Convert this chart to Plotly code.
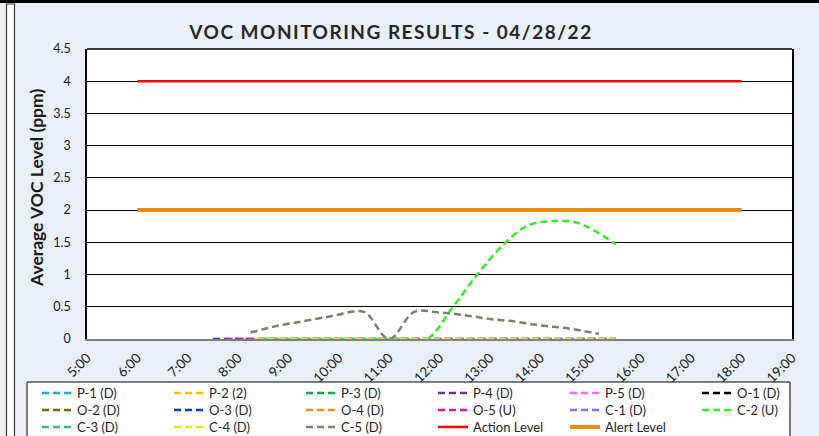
import plotly.graph_objects as go

DAY = "2022-04-28 "

# ---- data ----
SERIES_NAMES = ["P-1 (D)", "P-2 (2)", "P-3 (D)", "P-4 (D)", "P-5 (D)", "O-1 (D)",
                "O-2 (D)", "O-3 (D)", "O-4 (D)", "O-5 (U)", "C-1 (D)", "C-2 (U)",
                "C-3 (D)", "C-4 (D)", "C-5 (D)"]
SERIES_COLORS = ["#00B0F0", "#FFC000", "#00B050", "#7030A0", "#FF66FF", "#000000",
                 "#7F6000", "#0A3DC8", "#F08C1E", "#E6169C", "#9966FF", "#33EE22",
                 "#3CB878", "#DDEE11", "#807F70"]

O3_TIMES = ["07:30", "08:00", "08:30", "09:00", "09:30", "10:00", "10:30", "11:00", "11:30",
            "12:00", "12:30", "13:00", "13:30", "14:00", "14:30", "15:00", "15:30"]
O3_VALUES = [0, 0, 0, 0, 0, 0, 0, 0, 0, 0, 0, 0, 0, 0, 0, 0, 0]

O5_TIMES = ["07:45", "08:15", "08:45", "09:15", "09:45", "10:15", "10:45", "11:15", "11:45",
            "12:15", "12:45", "13:15", "13:45", "14:15", "14:45", "15:15", "15:30"]
O5_VALUES = [0, 0, 0, 0, 0, 0, 0, 0, 0, 0, 0, 0, 0, 0, 0, 0, 0]

C1_TIMES = ["08:25", "09:00", "09:30", "10:00", "10:30", "11:00", "11:30", "12:00",
            "12:30", "13:00", "13:30", "14:00", "14:30", "15:00", "15:30"]
C1_VALUES = [0, 0, 0, 0, 0, 0, 0, 0, 0, 0, 0, 0, 0, 0, 0]

C2_TIMES = ["08:30", "09:00", "09:30", "10:00", "10:30", "11:00", "11:15", "11:45",
            "12:15", "12:45", "13:15", "13:45", "14:15", "14:45", "15:30"]
C2_VALUES = [0, 0, 0, 0, 0, 0, 0, 0, 0.48, 1.0, 1.45, 1.76, 1.83, 1.8, 1.47]

C4_TIMES = ["08:22", "09:00", "09:30", "10:00", "10:30", "11:00", "11:30", "12:00",
            "12:30", "13:00", "13:30", "14:00", "14:30", "15:00", "15:30"]
C4_VALUES = [0, 0, 0, 0, 0, 0, 0, 0, 0, 0, 0, 0, 0, 0, 0]

C5_TIMES = ["08:15", "08:45", "09:15", "09:45", "10:00", "10:30", "11:00", "11:30",
            "12:00", "12:30", "13:00", "13:30", "14:00", "14:30", "15:10"]
C5_VALUES = [0.10, 0.20, 0.27, 0.34, 0.38, 0.42, 0.0, 0.42, 0.41, 0.37, 0.31, 0.27,
             0.21, 0.17, 0.08]

LIMIT_TIMES = ["06:00", "18:00"]
ACTION_LEVEL = [4, 4]
ALERT_LEVEL = [2, 2]

Y_TICKS = [0, 0.5, 1, 1.5, 2, 2.5, 3, 3.5, 4, 4.5]
Y_TICK_LABELS = ["0", "0.5", "1", "1.5", "2", "2.5", "3", "3.5", "4", "4.5"]

SERIES_DATA = {
    "O-3 (D)": (O3_TIMES, O3_VALUES),
    "O-5 (U)": (O5_TIMES, O5_VALUES),
    "C-1 (D)": (C1_TIMES, C1_VALUES),
    "C-2 (U)": (C2_TIMES, C2_VALUES),
    "C-4 (D)": (C4_TIMES, C4_VALUES),
    "C-5 (D)": (C5_TIMES, C5_VALUES),
}

FONT = "Lato"
LEGEND_ROWS = ["legend", "legend2", "legend3"]

fig = go.Figure()
for i, (name, color) in enumerate(zip(SERIES_NAMES, SERIES_COLORS)):
    if name in SERIES_DATA:
        times, vals = SERIES_DATA[name]
        xs = [DAY + t for t in times]
    else:
        xs, vals = [None], [None]  # series without readings: legend entry only
    fig.add_trace(go.Scatter(
        x=xs, y=vals, name=name, mode="lines", legend=LEGEND_ROWS[i // 6],
        line=dict(color=color, width=2.5, dash="7px,4px", shape="spline", smoothing=1),
        showlegend=True))

fig.add_trace(go.Scatter(x=[DAY + t for t in LIMIT_TIMES], y=ACTION_LEVEL, name="Action Level",
                         mode="lines", legend="legend3", line=dict(color="#FF0000", width=2.5)))
fig.add_trace(go.Scatter(x=[DAY + t for t in LIMIT_TIMES], y=ALERT_LEVEL, name="Alert Level",
                         mode="lines", legend="legend3", line=dict(color="#ED8C12", width=4)))

L, R, T, B = 87, 27, 49, 97
W, H = 819, 436
PW, PH = W - L - R, H - T - B


def px(x):
    return (x - L) / PW


def py(y):
    return (H - B - y) / PH


shapes = [
    dict(type="line", xref="paper", yref="paper", x0=0, x1=1, y0=1, y1=1,
         line=dict(color="#000000", width=1.5), layer="above"),
    dict(type="line", xref="paper", yref="paper", x0=px(0), x1=px(W), y0=py(1.5), y1=py(1.5),
         line=dict(color="#000000", width=3)),
    dict(type="rect", xref="paper", yref="paper", x0=px(6.5), x1=px(14.5), y0=py(H + 2), y1=py(4),
         fillcolor="#FFFFFF", line=dict(color="#3A3A3A", width=1.2)),
    # legend frame
    dict(type="rect", xref="paper", yref="paper", x0=px(27), x1=px(790), y0=py(H + 3), y1=py(382),
         fillcolor="#FFFFFF", line=dict(color="#000000", width=1)),
]
for xd in [112, 285, 480, 650]:
    shapes.append(dict(type="line", xref="paper", yref="paper", x0=px(xd), x1=px(xd),
                       y0=py(0), y1=py(3), line=dict(color="#000000", width=1)))

legend_common = dict(orientation="h", xanchor="left", yanchor="middle",
                     bgcolor="rgba(0,0,0,0)", borderwidth=0,
                     font=dict(family=FONT, size=13, color="#262626"),
                     entrywidth=87, traceorder="normal", tracegroupgap=0)

fig.update_layout(
    width=W, height=H,
    margin=dict(l=L, r=R, t=T, b=B, pad=0, autoexpand=False),
    paper_bgcolor="#E9EFF7",
    plot_bgcolor="#FFFFFF",
    font=dict(family=FONT, color="#1a1a1a"),
    title=dict(text="<b>VOC MONITORING RESULTS - 04/28/22</b>", x=391 / W, xanchor="center",
               y=1 - 32 / H, yanchor="middle", xref="container", yref="container",
               font=dict(family=FONT, size=19, color="#262626")),
    showlegend=True,
    legend=dict(x=px(37), y=py(393), **legend_common),
    legend2=dict(x=px(37), y=py(410), **legend_common),
    legend3=dict(x=px(37), y=py(427), **legend_common),
    shapes=shapes,
    annotations=[dict(text="<b>Average VOC Level (ppm)</b>", textangle=-90, xref="paper",
                      yref="paper", x=px(36), y=py(188), xanchor="center", yanchor="middle",
                      showarrow=False, font=dict(family=FONT, size=17.5, color="#1a1a1a"))],
)

fig.update_xaxes(
    type="date", range=[DAY + "05:00", DAY + "19:00"], dtick=3600000,
    tick0=DAY + "05:00", tickformat="%-H:%M", tickangle=-45,
    showgrid=False, showline=True, linecolor="#808080", linewidth=1.5,
    ticks="", tickfont=dict(family=FONT, size=13.5, color="#1a1a1a"),
    ticklabelstandoff=4, zeroline=False,
)
fig.update_yaxes(
    range=[0, 4.5], tickvals=Y_TICKS, ticktext=Y_TICK_LABELS,
    showgrid=True, gridcolor="#000000", gridwidth=1.3,
    showline=True, linecolor="#000000", linewidth=1.5, mirror=True,
    ticks="", ticklabelstandoff=12, tickfont=dict(family=FONT, size=12.5, color="#1a1a1a"),
    zeroline=False,
)

POST = ("document.body.style.margin='0';"
        "var t=document.querySelector('.gtitle');"
        "if(t){t.style.letterSpacing='1.5px';}")

fig.write_html("out.html", post_script=POST, config={"displayModeBar": False})
